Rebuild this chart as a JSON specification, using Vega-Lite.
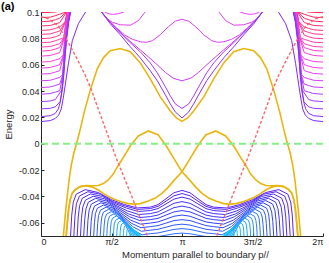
{
"$schema":"https://vega.github.io/schema/vega-lite/v6.json",
"width":282,"height":224,
"autosize":{"type":"none"},
"padding":{"left":41,"top":12,"right":6,"bottom":27},
"background":"white",
"title":{"text":"(a)","anchor":"start","frame":"group","dx":-40,"dy":6,"offset":2,"fontSize":11,"fontWeight":"bold","font":"Liberation Sans","color":"#000000"},
"config":{"view":{"stroke":null},"axis":{"grid":false,"domainColor":"#262626","tickColor":"#262626","labelColor":"#262626","titleColor":"#262626","labelFont":"Liberation Sans","titleFont":"Liberation Sans","labelFontSize":9,"titleFontSize":9.5,"titleFontWeight":"normal","tickSize":-3,"domainWidth":1}},
"datasets":{
"top":[
{"k":20,"x":0,"y":0.0995},{"k":20,"x":0.066,"y":0.0997},{"k":20,"x":0.109,"y":0.1001},{"k":20,"x":0.151,"y":0.1017},{"k":20,"x":1.849,"y":0.1017},{"k":20,"x":1.891,"y":0.1001},{"k":20,"x":1.934,"y":0.0997},{"k":20,"x":2,"y":0.0995},
{"k":19,"x":0,"y":0.0957},{"k":19,"x":0.066,"y":0.0961},{"k":19,"x":0.101,"y":0.0972},{"k":19,"x":0.133,"y":0.0983},{"k":19,"x":0.179,"y":0.1002},{"k":19,"x":0.19,"y":0.1048},{"k":19,"x":1.81,"y":0.1048},{"k":19,"x":1.821,"y":0.1002},{"k":19,"x":1.867,"y":0.0983},{"k":19,"x":1.899,"y":0.0972},{"k":19,"x":1.934,"y":0.0961},{"k":19,"x":2,"y":0.0957},
{"k":18,"x":0,"y":0.0926},{"k":18,"x":0.066,"y":0.0931},{"k":18,"x":0.101,"y":0.0941},{"k":18,"x":0.133,"y":0.0953},{"k":18,"x":0.181,"y":0.1002},{"k":18,"x":0.192,"y":0.1048},{"k":18,"x":1.808,"y":0.1048},{"k":18,"x":1.819,"y":0.1002},{"k":18,"x":1.867,"y":0.0953},{"k":18,"x":1.899,"y":0.0941},{"k":18,"x":1.934,"y":0.0931},{"k":18,"x":2,"y":0.0926},
{"k":17,"x":0,"y":0.0894},{"k":17,"x":0.066,"y":0.0898},{"k":17,"x":0.101,"y":0.0909},{"k":17,"x":0.133,"y":0.092},{"k":17,"x":0.183,"y":0.1002},{"k":17,"x":0.194,"y":0.1048},{"k":17,"x":1.806,"y":0.1048},{"k":17,"x":1.817,"y":0.1002},{"k":17,"x":1.867,"y":0.092},{"k":17,"x":1.899,"y":0.0909},{"k":17,"x":1.934,"y":0.0898},{"k":17,"x":2,"y":0.0894},
{"k":16,"x":0,"y":0.086},{"k":16,"x":0.066,"y":0.0865},{"k":16,"x":0.101,"y":0.0875},{"k":16,"x":0.133,"y":0.0887},{"k":16,"x":0.171,"y":0.0926},{"k":16,"x":0.185,"y":0.1002},{"k":16,"x":0.195,"y":0.1048},{"k":16,"x":1.805,"y":0.1048},{"k":16,"x":1.815,"y":0.1002},{"k":16,"x":1.829,"y":0.0926},{"k":16,"x":1.867,"y":0.0887},{"k":16,"x":1.899,"y":0.0875},{"k":16,"x":1.934,"y":0.0865},{"k":16,"x":2,"y":0.086},
{"k":15,"x":0,"y":0.083},{"k":15,"x":0.066,"y":0.0834},{"k":15,"x":0.101,"y":0.0845},{"k":15,"x":0.133,"y":0.0856},{"k":15,"x":0.172,"y":0.0926},{"k":15,"x":0.187,"y":0.1002},{"k":15,"x":0.197,"y":0.1048},{"k":15,"x":1.803,"y":0.1048},{"k":15,"x":1.813,"y":0.1002},{"k":15,"x":1.828,"y":0.0926},{"k":15,"x":1.867,"y":0.0856},{"k":15,"x":1.899,"y":0.0845},{"k":15,"x":1.934,"y":0.0834},{"k":15,"x":2,"y":0.083},
{"k":14,"x":0,"y":0.0797},{"k":14,"x":0.066,"y":0.0802},{"k":14,"x":0.101,"y":0.0812},{"k":14,"x":0.133,"y":0.0824},{"k":14,"x":0.174,"y":0.0926},{"k":14,"x":0.188,"y":0.1002},{"k":14,"x":0.199,"y":0.1048},{"k":14,"x":1.801,"y":0.1048},{"k":14,"x":1.812,"y":0.1002},{"k":14,"x":1.826,"y":0.0926},{"k":14,"x":1.867,"y":0.0824},{"k":14,"x":1.899,"y":0.0812},{"k":14,"x":1.934,"y":0.0802},{"k":14,"x":2,"y":0.0797},
{"k":13,"x":0,"y":0.0767},{"k":13,"x":0.066,"y":0.0771},{"k":13,"x":0.101,"y":0.0782},{"k":13,"x":0.133,"y":0.0793},{"k":13,"x":0.162,"y":0.0805},{"k":13,"x":0.176,"y":0.0926},{"k":13,"x":0.19,"y":0.1002},{"k":13,"x":0.201,"y":0.1048},{"k":13,"x":1.799,"y":0.1048},{"k":13,"x":1.81,"y":0.1002},{"k":13,"x":1.824,"y":0.0926},{"k":13,"x":1.838,"y":0.0805},{"k":13,"x":1.867,"y":0.0793},{"k":13,"x":1.899,"y":0.0782},{"k":13,"x":1.934,"y":0.0771},{"k":13,"x":2,"y":0.0767},
{"k":12,"x":0,"y":0.0734},{"k":12,"x":0.066,"y":0.0738},{"k":12,"x":0.101,"y":0.0749},{"k":12,"x":0.133,"y":0.076},{"k":12,"x":0.163,"y":0.0805},{"k":12,"x":0.178,"y":0.0926},{"k":12,"x":0.192,"y":0.1002},{"k":12,"x":0.202,"y":0.1048},{"k":12,"x":1.798,"y":0.1048},{"k":12,"x":1.808,"y":0.1002},{"k":12,"x":1.822,"y":0.0926},{"k":12,"x":1.837,"y":0.0805},{"k":12,"x":1.867,"y":0.076},{"k":12,"x":1.899,"y":0.0749},{"k":12,"x":1.934,"y":0.0738},{"k":12,"x":2,"y":0.0734},
{"k":11,"x":0,"y":0.0703},{"k":11,"x":0.066,"y":0.0708},{"k":11,"x":0.101,"y":0.0719},{"k":11,"x":0.133,"y":0.073},{"k":11,"x":0.165,"y":0.0805},{"k":11,"x":0.179,"y":0.0926},{"k":11,"x":0.194,"y":0.1002},{"k":11,"x":0.204,"y":0.1048},{"k":11,"x":1.796,"y":0.1048},{"k":11,"x":1.806,"y":0.1002},{"k":11,"x":1.821,"y":0.0926},{"k":11,"x":1.835,"y":0.0805},{"k":11,"x":1.867,"y":0.073},{"k":11,"x":1.899,"y":0.0719},{"k":11,"x":1.934,"y":0.0708},{"k":11,"x":2,"y":0.0703},
{"k":10,"x":0,"y":0.0665},{"k":10,"x":0.066,"y":0.067},{"k":10,"x":0.101,"y":0.0681},{"k":10,"x":0.133,"y":0.0692},{"k":10,"x":0.167,"y":0.0805},{"k":10,"x":0.181,"y":0.0926},{"k":10,"x":0.195,"y":0.1002},{"k":10,"x":0.206,"y":0.1048},{"k":10,"x":1.794,"y":0.1048},{"k":10,"x":1.805,"y":0.1002},{"k":10,"x":1.819,"y":0.0926},{"k":10,"x":1.833,"y":0.0805},{"k":10,"x":1.867,"y":0.0692},{"k":10,"x":1.899,"y":0.0681},{"k":10,"x":1.934,"y":0.067},{"k":10,"x":2,"y":0.0665},
{"k":9,"x":0,"y":0.062},{"k":9,"x":0.066,"y":0.0624},{"k":9,"x":0.101,"y":0.0635},{"k":9,"x":0.133,"y":0.0646},{"k":9,"x":0.158,"y":0.0675},{"k":9,"x":0.169,"y":0.0805},{"k":9,"x":0.183,"y":0.0926},{"k":9,"x":0.197,"y":0.1002},{"k":9,"x":0.208,"y":0.1048},{"k":9,"x":1.792,"y":0.1048},{"k":9,"x":1.803,"y":0.1002},{"k":9,"x":1.817,"y":0.0926},{"k":9,"x":1.831,"y":0.0805},{"k":9,"x":1.842,"y":0.0675},{"k":9,"x":1.867,"y":0.0646},{"k":9,"x":1.899,"y":0.0635},{"k":9,"x":1.934,"y":0.0624},{"k":9,"x":2,"y":0.062},
{"k":8,"x":0,"y":0.0574},{"k":8,"x":0.066,"y":0.0579},{"k":8,"x":0.101,"y":0.0589},{"k":8,"x":0.133,"y":0.0601},{"k":8,"x":0.16,"y":0.0675},{"k":8,"x":0.171,"y":0.0805},{"k":8,"x":0.185,"y":0.0926},{"k":8,"x":0.199,"y":0.1002},{"k":8,"x":0.21,"y":0.1048},{"k":8,"x":1.79,"y":0.1048},{"k":8,"x":1.801,"y":0.1002},{"k":8,"x":1.815,"y":0.0926},{"k":8,"x":1.829,"y":0.0805},{"k":8,"x":1.84,"y":0.0675},{"k":8,"x":1.867,"y":0.0601},{"k":8,"x":1.899,"y":0.0589},{"k":8,"x":1.934,"y":0.0579},{"k":8,"x":2,"y":0.0574},
{"k":7,"x":0,"y":0.0529},{"k":7,"x":0.066,"y":0.0533},{"k":7,"x":0.101,"y":0.0544},{"k":7,"x":0.133,"y":0.0555},{"k":7,"x":0.162,"y":0.0675},{"k":7,"x":0.172,"y":0.0805},{"k":7,"x":0.187,"y":0.0926},{"k":7,"x":0.201,"y":0.1002},{"k":7,"x":0.211,"y":0.1048},{"k":7,"x":1.789,"y":0.1048},{"k":7,"x":1.799,"y":0.1002},{"k":7,"x":1.813,"y":0.0926},{"k":7,"x":1.828,"y":0.0805},{"k":7,"x":1.838,"y":0.0675},{"k":7,"x":1.867,"y":0.0555},{"k":7,"x":1.899,"y":0.0544},{"k":7,"x":1.934,"y":0.0533},{"k":7,"x":2,"y":0.0529},
{"k":6,"x":0,"y":0.0478},{"k":6,"x":0.066,"y":0.0482},{"k":6,"x":0.101,"y":0.0493},{"k":6,"x":0.133,"y":0.0504},{"k":6,"x":0.153,"y":0.0523},{"k":6,"x":0.163,"y":0.0675},{"k":6,"x":0.174,"y":0.0805},{"k":6,"x":0.188,"y":0.0926},{"k":6,"x":0.202,"y":0.1002},{"k":6,"x":0.213,"y":0.1048},{"k":6,"x":1.787,"y":0.1048},{"k":6,"x":1.798,"y":0.1002},{"k":6,"x":1.812,"y":0.0926},{"k":6,"x":1.826,"y":0.0805},{"k":6,"x":1.837,"y":0.0675},{"k":6,"x":1.847,"y":0.0523},{"k":6,"x":1.867,"y":0.0504},{"k":6,"x":1.899,"y":0.0493},{"k":6,"x":1.934,"y":0.0482},{"k":6,"x":2,"y":0.0478},
{"k":5,"x":0,"y":0.0427},{"k":5,"x":0.066,"y":0.0431},{"k":5,"x":0.101,"y":0.0442},{"k":5,"x":0.133,"y":0.0453},{"k":5,"x":0.155,"y":0.0523},{"k":5,"x":0.165,"y":0.0675},{"k":5,"x":0.176,"y":0.0805},{"k":5,"x":0.19,"y":0.0926},{"k":5,"x":0.204,"y":0.1002},{"k":5,"x":0.215,"y":0.1048},{"k":5,"x":1.785,"y":0.1048},{"k":5,"x":1.796,"y":0.1002},{"k":5,"x":1.81,"y":0.0926},{"k":5,"x":1.824,"y":0.0805},{"k":5,"x":1.835,"y":0.0675},{"k":5,"x":1.845,"y":0.0523},{"k":5,"x":1.867,"y":0.0453},{"k":5,"x":1.899,"y":0.0442},{"k":5,"x":1.934,"y":0.0431},{"k":5,"x":2,"y":0.0427},
{"k":4,"x":0,"y":0.0376},{"k":4,"x":0.066,"y":0.0381},{"k":4,"x":0.101,"y":0.0392},{"k":4,"x":0.133,"y":0.0403},{"k":4,"x":0.156,"y":0.0523},{"k":4,"x":0.167,"y":0.0675},{"k":4,"x":0.178,"y":0.0805},{"k":4,"x":0.192,"y":0.0926},{"k":4,"x":0.206,"y":0.1002},{"k":4,"x":0.217,"y":0.1048},{"k":4,"x":1.783,"y":0.1048},{"k":4,"x":1.794,"y":0.1002},{"k":4,"x":1.808,"y":0.0926},{"k":4,"x":1.822,"y":0.0805},{"k":4,"x":1.833,"y":0.0675},{"k":4,"x":1.844,"y":0.0523},{"k":4,"x":1.867,"y":0.0403},{"k":4,"x":1.899,"y":0.0392},{"k":4,"x":1.934,"y":0.0381},{"k":4,"x":2,"y":0.0376},
{"k":3,"x":0,"y":0.032},{"k":3,"x":0.066,"y":0.0325},{"k":3,"x":0.101,"y":0.0335},{"k":3,"x":0.148,"y":0.0409},{"k":3,"x":0.158,"y":0.0523},{"k":3,"x":0.169,"y":0.0675},{"k":3,"x":0.179,"y":0.0805},{"k":3,"x":0.194,"y":0.0926},{"k":3,"x":0.208,"y":0.1002},{"k":3,"x":0.218,"y":0.1048},{"k":3,"x":1.782,"y":0.1048},{"k":3,"x":1.792,"y":0.1002},{"k":3,"x":1.806,"y":0.0926},{"k":3,"x":1.821,"y":0.0805},{"k":3,"x":1.831,"y":0.0675},{"k":3,"x":1.842,"y":0.0523},{"k":3,"x":1.852,"y":0.0409},{"k":3,"x":1.899,"y":0.0335},{"k":3,"x":1.934,"y":0.0325},{"k":3,"x":2,"y":0.032},
{"k":2,"x":0,"y":0.0265},{"k":2,"x":0.066,"y":0.0269},{"k":2,"x":0.101,"y":0.028},{"k":2,"x":0.135,"y":0.0318},{"k":2,"x":0.149,"y":0.0409},{"k":2,"x":0.16,"y":0.0523},{"k":2,"x":0.171,"y":0.0675},{"k":2,"x":0.181,"y":0.0805},{"k":2,"x":0.195,"y":0.0926},{"k":2,"x":0.21,"y":0.1002},{"k":2,"x":0.22,"y":0.1048},{"k":2,"x":1.78,"y":0.1048},{"k":2,"x":1.79,"y":0.1002},{"k":2,"x":1.805,"y":0.0926},{"k":2,"x":1.819,"y":0.0805},{"k":2,"x":1.829,"y":0.0675},{"k":2,"x":1.84,"y":0.0523},{"k":2,"x":1.851,"y":0.0409},{"k":2,"x":1.865,"y":0.0318},{"k":2,"x":1.899,"y":0.028},{"k":2,"x":1.934,"y":0.0269},{"k":2,"x":2,"y":0.0265},
{"k":1,"x":0,"y":0.0206},{"k":1,"x":0.066,"y":0.0213},{"k":1,"x":0.101,"y":0.023},{"k":1,"x":0.123,"y":0.0265},{"k":1,"x":0.137,"y":0.0318},{"k":1,"x":0.151,"y":0.0409},{"k":1,"x":0.162,"y":0.0523},{"k":1,"x":0.172,"y":0.0675},{"k":1,"x":0.183,"y":0.0805},{"k":1,"x":0.197,"y":0.0926},{"k":1,"x":0.211,"y":0.1002},{"k":1,"x":0.222,"y":0.1048},{"k":1,"x":1.778,"y":0.1048},{"k":1,"x":1.789,"y":0.1002},{"k":1,"x":1.803,"y":0.0926},{"k":1,"x":1.817,"y":0.0805},{"k":1,"x":1.828,"y":0.0675},{"k":1,"x":1.838,"y":0.0523},{"k":1,"x":1.849,"y":0.0409},{"k":1,"x":1.863,"y":0.0318},{"k":1,"x":1.877,"y":0.0265},{"k":1,"x":1.899,"y":0.023},{"k":1,"x":1.934,"y":0.0213},{"k":1,"x":2,"y":0.0206},
{"k":0,"x":0,"y":0.0168},{"k":0,"x":0.066,"y":0.0176},{"k":0,"x":0.101,"y":0.0192},{"k":0,"x":0.126,"y":0.0219},{"k":0,"x":0.144,"y":0.0265},{"k":0,"x":0.158,"y":0.0348},{"k":0,"x":0.172,"y":0.0447},{"k":0,"x":0.194,"y":0.0607},{"k":0,"x":0.222,"y":0.0782},{"k":0,"x":0.265,"y":0.0911},{"k":0,"x":0.317,"y":0.1002},{"k":0,"x":0.35,"y":0.1056},{"k":0,"x":1.65,"y":0.1056},{"k":0,"x":1.683,"y":0.1002},{"k":0,"x":1.735,"y":0.0911},{"k":0,"x":1.778,"y":0.0782},{"k":0,"x":1.806,"y":0.0607},{"k":0,"x":1.828,"y":0.0447},{"k":0,"x":1.842,"y":0.0348},{"k":0,"x":1.856,"y":0.0265},{"k":0,"x":1.874,"y":0.0219},{"k":0,"x":1.899,"y":0.0192},{"k":0,"x":1.934,"y":0.0176},{"k":0,"x":2,"y":0.0168},
{"k":7.5,"x":0.421,"y":0.1033},{"k":7.5,"x":0.456,"y":0.0997},{"k":7.5,"x":0.484,"y":0.0986},{"k":7.5,"x":0.513,"y":0.0982},{"k":7.5,"x":0.548,"y":0.0987},{"k":7.5,"x":0.584,"y":0.0998},{"k":7.5,"x":0.612,"y":0.1017},{"k":7.5,"x":0.704,"y":0.1094},{"k":7.5,"x":1,"y":0.1132},{"k":7.5,"x":1.296,"y":0.1094},{"k":7.5,"x":1.388,"y":0.1017},{"k":7.5,"x":1.416,"y":0.0998},{"k":7.5,"x":1.452,"y":0.0987},{"k":7.5,"x":1.487,"y":0.0982},{"k":7.5,"x":1.516,"y":0.0986},{"k":7.5,"x":1.544,"y":0.0997},{"k":7.5,"x":1.579,"y":0.1033},
{"k":7.2,"x":0.406,"y":0.1048},{"k":7.2,"x":0.428,"y":0.1002},{"k":7.2,"x":0.463,"y":0.0953},{"k":7.2,"x":0.506,"y":0.0922},{"k":7.2,"x":0.562,"y":0.0903},{"k":7.2,"x":0.633,"y":0.09},{"k":7.2,"x":0.69,"y":0.0934},{"k":7.2,"x":0.74,"y":0.1002},{"k":7.2,"x":0.775,"y":0.1063},{"k":7.2,"x":1,"y":0.1132},{"k":7.2,"x":1.225,"y":0.1063},{"k":7.2,"x":1.26,"y":0.1002},{"k":7.2,"x":1.31,"y":0.0934},{"k":7.2,"x":1.367,"y":0.09},{"k":7.2,"x":1.438,"y":0.0903},{"k":7.2,"x":1.494,"y":0.0922},{"k":7.2,"x":1.537,"y":0.0953},{"k":7.2,"x":1.572,"y":0.1002},{"k":7.2,"x":1.594,"y":0.1048},
{"k":6.8,"x":0.406,"y":0.1048},{"k":6.8,"x":0.428,"y":0.1002},{"k":6.8,"x":0.477,"y":0.0941},{"k":6.8,"x":0.534,"y":0.0881},{"k":6.8,"x":0.591,"y":0.0827},{"k":6.8,"x":0.648,"y":0.0793},{"k":6.8,"x":0.704,"y":0.0774},{"k":6.8,"x":0.747,"y":0.077},{"k":6.8,"x":0.789,"y":0.0782},{"k":6.8,"x":0.846,"y":0.0827},{"k":6.8,"x":0.903,"y":0.0888},{"k":6.8,"x":0.952,"y":0.093},{"k":6.8,"x":1,"y":0.0945},{"k":6.8,"x":1.048,"y":0.093},{"k":6.8,"x":1.097,"y":0.0888},{"k":6.8,"x":1.154,"y":0.0827},{"k":6.8,"x":1.211,"y":0.0782},{"k":6.8,"x":1.253,"y":0.077},{"k":6.8,"x":1.296,"y":0.0774},{"k":6.8,"x":1.352,"y":0.0793},{"k":6.8,"x":1.409,"y":0.0827},{"k":6.8,"x":1.466,"y":0.0881},{"k":6.8,"x":1.523,"y":0.0941},{"k":6.8,"x":1.572,"y":0.1002},{"k":6.8,"x":1.594,"y":0.1048},
{"k":5.8,"x":0.406,"y":0.104},{"k":5.8,"x":0.428,"y":0.1002},{"k":5.8,"x":0.477,"y":0.0938},{"k":5.8,"x":0.534,"y":0.0873},{"k":5.8,"x":0.591,"y":0.0816},{"k":5.8,"x":0.648,"y":0.0763},{"k":5.8,"x":0.704,"y":0.0713},{"k":5.8,"x":0.761,"y":0.066},{"k":5.8,"x":0.825,"y":0.0599},{"k":5.8,"x":0.882,"y":0.0542},{"k":5.8,"x":0.938,"y":0.0497},{"k":5.8,"x":1,"y":0.0478},{"k":5.8,"x":1.062,"y":0.0497},{"k":5.8,"x":1.118,"y":0.0542},{"k":5.8,"x":1.175,"y":0.0599},{"k":5.8,"x":1.239,"y":0.066},{"k":5.8,"x":1.296,"y":0.0713},{"k":5.8,"x":1.352,"y":0.0763},{"k":5.8,"x":1.409,"y":0.0816},{"k":5.8,"x":1.466,"y":0.0873},{"k":5.8,"x":1.523,"y":0.0938},{"k":5.8,"x":1.572,"y":0.1002},{"k":5.8,"x":1.594,"y":0.104},
{"k":3.3,"x":0.406,"y":0.104},{"k":3.3,"x":0.428,"y":0.1002},{"k":3.3,"x":0.491,"y":0.0919},{"k":3.3,"x":0.562,"y":0.0843},{"k":3.3,"x":0.633,"y":0.0767},{"k":3.3,"x":0.704,"y":0.0698},{"k":3.3,"x":0.775,"y":0.0614},{"k":3.3,"x":0.825,"y":0.0538},{"k":3.3,"x":0.882,"y":0.0432},{"k":3.3,"x":0.917,"y":0.0363},{"k":3.3,"x":0.952,"y":0.0303},{"k":3.3,"x":1,"y":0.0268},{"k":3.3,"x":1.048,"y":0.0303},{"k":3.3,"x":1.083,"y":0.0363},{"k":3.3,"x":1.118,"y":0.0432},{"k":3.3,"x":1.175,"y":0.0538},{"k":3.3,"x":1.225,"y":0.0614},{"k":3.3,"x":1.296,"y":0.0698},{"k":3.3,"x":1.367,"y":0.0767},{"k":3.3,"x":1.438,"y":0.0843},{"k":3.3,"x":1.509,"y":0.0919},{"k":3.3,"x":1.572,"y":0.1002},{"k":3.3,"x":1.594,"y":0.104},
{"k":1.3,"x":0.406,"y":0.104},{"k":1.3,"x":0.428,"y":0.1002},{"k":1.3,"x":0.491,"y":0.0911},{"k":1.3,"x":0.562,"y":0.0827},{"k":1.3,"x":0.633,"y":0.0736},{"k":1.3,"x":0.669,"y":0.0694},{"k":1.3,"x":0.704,"y":0.0652},{"k":1.3,"x":0.775,"y":0.0554},{"k":1.3,"x":0.825,"y":0.0478},{"k":1.3,"x":0.882,"y":0.0371},{"k":1.3,"x":0.917,"y":0.0303},{"k":1.3,"x":0.952,"y":0.0242},{"k":1.3,"x":1,"y":0.0196},{"k":1.3,"x":1.048,"y":0.0242},{"k":1.3,"x":1.083,"y":0.0303},{"k":1.3,"x":1.118,"y":0.0371},{"k":1.3,"x":1.175,"y":0.0478},{"k":1.3,"x":1.225,"y":0.0554},{"k":1.3,"x":1.296,"y":0.0652},{"k":1.3,"x":1.331,"y":0.0694},{"k":1.3,"x":1.367,"y":0.0736},{"k":1.3,"x":1.438,"y":0.0827},{"k":1.3,"x":1.509,"y":0.0911},{"k":1.3,"x":1.572,"y":0.1002},{"k":1.3,"x":1.594,"y":0.104}
],
"bot":[
{"k":0,"x":0.208,"y":-0.0732},{"k":0,"x":0.218,"y":-0.054},{"k":0,"x":0.229,"y":-0.0443},{"k":0,"x":0.25,"y":-0.0382},{"k":0,"x":0.314,"y":-0.0348},{"k":0,"x":0.406,"y":-0.037},{"k":0,"x":0.499,"y":-0.0424},{"k":0,"x":0.591,"y":-0.0461},{"k":0,"x":0.683,"y":-0.0487},{"k":0,"x":0.775,"y":-0.0481},{"k":0,"x":0.83,"y":-0.0462},{"k":0,"x":0.887,"y":-0.0417},{"k":0,"x":0.943,"y":-0.0372},{"k":0,"x":1,"y":-0.0354},{"k":0,"x":1.057,"y":-0.0372},{"k":0,"x":1.113,"y":-0.0417},{"k":0,"x":1.17,"y":-0.0462},{"k":0,"x":1.225,"y":-0.0481},{"k":0,"x":1.317,"y":-0.0487},{"k":0,"x":1.409,"y":-0.0461},{"k":0,"x":1.501,"y":-0.0424},{"k":0,"x":1.594,"y":-0.037},{"k":0,"x":1.686,"y":-0.0348},{"k":0,"x":1.75,"y":-0.0382},{"k":0,"x":1.771,"y":-0.0443},{"k":0,"x":1.782,"y":-0.054},{"k":0,"x":1.792,"y":-0.0732},
{"k":1,"x":0.231,"y":-0.0732},{"k":1,"x":0.241,"y":-0.0548},{"k":1,"x":0.251,"y":-0.0456},{"k":1,"x":0.272,"y":-0.0397},{"k":1,"x":0.333,"y":-0.0364},{"k":1,"x":0.421,"y":-0.0383},{"k":1,"x":0.51,"y":-0.0439},{"k":1,"x":0.598,"y":-0.0473},{"k":1,"x":0.687,"y":-0.0498},{"k":1,"x":0.775,"y":-0.0492},{"k":1,"x":0.83,"y":-0.0475},{"k":1,"x":0.887,"y":-0.0435},{"k":1,"x":0.943,"y":-0.0395},{"k":1,"x":1,"y":-0.0378},{"k":1,"x":1.057,"y":-0.0395},{"k":1,"x":1.113,"y":-0.0435},{"k":1,"x":1.17,"y":-0.0475},{"k":1,"x":1.225,"y":-0.0492},{"k":1,"x":1.313,"y":-0.0498},{"k":1,"x":1.402,"y":-0.0473},{"k":1,"x":1.49,"y":-0.0439},{"k":1,"x":1.579,"y":-0.0383},{"k":1,"x":1.667,"y":-0.0364},{"k":1,"x":1.728,"y":-0.0397},{"k":1,"x":1.749,"y":-0.0456},{"k":1,"x":1.759,"y":-0.0548},{"k":1,"x":1.769,"y":-0.0732},
{"k":2,"x":0.255,"y":-0.0732},{"k":2,"x":0.264,"y":-0.0556},{"k":2,"x":0.274,"y":-0.0469},{"k":2,"x":0.293,"y":-0.0413},{"k":2,"x":0.351,"y":-0.0381},{"k":2,"x":0.436,"y":-0.04},{"k":2,"x":0.521,"y":-0.0452},{"k":2,"x":0.606,"y":-0.0488},{"k":2,"x":0.69,"y":-0.0514},{"k":2,"x":0.775,"y":-0.0507},{"k":2,"x":0.83,"y":-0.0492},{"k":2,"x":0.887,"y":-0.0456},{"k":2,"x":0.943,"y":-0.042},{"k":2,"x":1,"y":-0.0405},{"k":2,"x":1.057,"y":-0.042},{"k":2,"x":1.113,"y":-0.0456},{"k":2,"x":1.17,"y":-0.0492},{"k":2,"x":1.225,"y":-0.0507},{"k":2,"x":1.31,"y":-0.0514},{"k":2,"x":1.394,"y":-0.0488},{"k":2,"x":1.479,"y":-0.0452},{"k":2,"x":1.564,"y":-0.04},{"k":2,"x":1.649,"y":-0.0381},{"k":2,"x":1.707,"y":-0.0413},{"k":2,"x":1.726,"y":-0.0469},{"k":2,"x":1.736,"y":-0.0556},{"k":2,"x":1.745,"y":-0.0732},
{"k":3,"x":0.278,"y":-0.0732},{"k":3,"x":0.287,"y":-0.0565},{"k":3,"x":0.296,"y":-0.0481},{"k":3,"x":0.315,"y":-0.0428},{"k":3,"x":0.37,"y":-0.0398},{"k":3,"x":0.451,"y":-0.0418},{"k":3,"x":0.532,"y":-0.0468},{"k":3,"x":0.613,"y":-0.051},{"k":3,"x":0.694,"y":-0.0537},{"k":3,"x":0.775,"y":-0.053},{"k":3,"x":0.83,"y":-0.0517},{"k":3,"x":0.887,"y":-0.0484},{"k":3,"x":0.943,"y":-0.0452},{"k":3,"x":1,"y":-0.0439},{"k":3,"x":1.057,"y":-0.0452},{"k":3,"x":1.113,"y":-0.0484},{"k":3,"x":1.17,"y":-0.0517},{"k":3,"x":1.225,"y":-0.053},{"k":3,"x":1.306,"y":-0.0537},{"k":3,"x":1.387,"y":-0.051},{"k":3,"x":1.468,"y":-0.0468},{"k":3,"x":1.549,"y":-0.0418},{"k":3,"x":1.63,"y":-0.0398},{"k":3,"x":1.685,"y":-0.0428},{"k":3,"x":1.704,"y":-0.0481},{"k":3,"x":1.713,"y":-0.0565},{"k":3,"x":1.722,"y":-0.0732},
{"k":4,"x":0.301,"y":-0.0732},{"k":4,"x":0.31,"y":-0.0573},{"k":4,"x":0.319,"y":-0.0494},{"k":4,"x":0.336,"y":-0.0443},{"k":4,"x":0.388,"y":-0.0414},{"k":4,"x":0.465,"y":-0.0435},{"k":4,"x":0.543,"y":-0.0484},{"k":4,"x":0.62,"y":-0.0532},{"k":4,"x":0.698,"y":-0.056},{"k":4,"x":0.775,"y":-0.0553},{"k":4,"x":0.83,"y":-0.0541},{"k":4,"x":0.887,"y":-0.0513},{"k":4,"x":0.943,"y":-0.0485},{"k":4,"x":1,"y":-0.0473},{"k":4,"x":1.057,"y":-0.0485},{"k":4,"x":1.113,"y":-0.0513},{"k":4,"x":1.17,"y":-0.0541},{"k":4,"x":1.225,"y":-0.0553},{"k":4,"x":1.302,"y":-0.056},{"k":4,"x":1.38,"y":-0.0532},{"k":4,"x":1.457,"y":-0.0484},{"k":4,"x":1.535,"y":-0.0435},{"k":4,"x":1.612,"y":-0.0414},{"k":4,"x":1.664,"y":-0.0443},{"k":4,"x":1.681,"y":-0.0494},{"k":4,"x":1.69,"y":-0.0573},{"k":4,"x":1.699,"y":-0.0732},
{"k":5,"x":0.325,"y":-0.0732},{"k":5,"x":0.333,"y":-0.0581},{"k":5,"x":0.341,"y":-0.0506},{"k":5,"x":0.357,"y":-0.0458},{"k":5,"x":0.406,"y":-0.0431},{"k":5,"x":0.48,"y":-0.0453},{"k":5,"x":0.554,"y":-0.0503},{"k":5,"x":0.628,"y":-0.0554},{"k":5,"x":0.701,"y":-0.0583},{"k":5,"x":0.775,"y":-0.0576},{"k":5,"x":0.83,"y":-0.0566},{"k":5,"x":0.887,"y":-0.0541},{"k":5,"x":0.943,"y":-0.0517},{"k":5,"x":1,"y":-0.0507},{"k":5,"x":1.057,"y":-0.0517},{"k":5,"x":1.113,"y":-0.0541},{"k":5,"x":1.17,"y":-0.0566},{"k":5,"x":1.225,"y":-0.0576},{"k":5,"x":1.299,"y":-0.0583},{"k":5,"x":1.372,"y":-0.0554},{"k":5,"x":1.446,"y":-0.0503},{"k":5,"x":1.52,"y":-0.0453},{"k":5,"x":1.594,"y":-0.0431},{"k":5,"x":1.643,"y":-0.0458},{"k":5,"x":1.659,"y":-0.0506},{"k":5,"x":1.667,"y":-0.0581},{"k":5,"x":1.675,"y":-0.0732},
{"k":6,"x":0.348,"y":-0.0732},{"k":6,"x":0.356,"y":-0.059},{"k":6,"x":0.364,"y":-0.0519},{"k":6,"x":0.379,"y":-0.0473},{"k":6,"x":0.425,"y":-0.0448},{"k":6,"x":0.495,"y":-0.0471},{"k":6,"x":0.565,"y":-0.0525},{"k":6,"x":0.635,"y":-0.0579},{"k":6,"x":0.705,"y":-0.061},{"k":6,"x":0.775,"y":-0.0602},{"k":6,"x":0.83,"y":-0.0593},{"k":6,"x":0.887,"y":-0.0572},{"k":6,"x":0.943,"y":-0.055},{"k":6,"x":1,"y":-0.0541},{"k":6,"x":1.057,"y":-0.055},{"k":6,"x":1.113,"y":-0.0572},{"k":6,"x":1.17,"y":-0.0593},{"k":6,"x":1.225,"y":-0.0602},{"k":6,"x":1.295,"y":-0.061},{"k":6,"x":1.365,"y":-0.0579},{"k":6,"x":1.435,"y":-0.0525},{"k":6,"x":1.505,"y":-0.0471},{"k":6,"x":1.575,"y":-0.0448},{"k":6,"x":1.621,"y":-0.0473},{"k":6,"x":1.636,"y":-0.0519},{"k":6,"x":1.644,"y":-0.059},{"k":6,"x":1.652,"y":-0.0732},
{"k":7,"x":0.372,"y":-0.0732},{"k":7,"x":0.379,"y":-0.0598},{"k":7,"x":0.386,"y":-0.0531},{"k":7,"x":0.4,"y":-0.0489},{"k":7,"x":0.443,"y":-0.0465},{"k":7,"x":0.51,"y":-0.0489},{"k":7,"x":0.576,"y":-0.0547},{"k":7,"x":0.642,"y":-0.0604},{"k":7,"x":0.709,"y":-0.0637},{"k":7,"x":0.775,"y":-0.0629},{"k":7,"x":0.83,"y":-0.0621},{"k":7,"x":0.887,"y":-0.0602},{"k":7,"x":0.943,"y":-0.0583},{"k":7,"x":1,"y":-0.0576},{"k":7,"x":1.057,"y":-0.0583},{"k":7,"x":1.113,"y":-0.0602},{"k":7,"x":1.17,"y":-0.0621},{"k":7,"x":1.225,"y":-0.0629},{"k":7,"x":1.291,"y":-0.0637},{"k":7,"x":1.358,"y":-0.0604},{"k":7,"x":1.424,"y":-0.0547},{"k":7,"x":1.49,"y":-0.0489},{"k":7,"x":1.557,"y":-0.0465},{"k":7,"x":1.6,"y":-0.0489},{"k":7,"x":1.614,"y":-0.0531},{"k":7,"x":1.621,"y":-0.0598},{"k":7,"x":1.628,"y":-0.0732},
{"k":8,"x":0.395,"y":-0.0732},{"k":8,"x":0.402,"y":-0.0606},{"k":8,"x":0.408,"y":-0.0544},{"k":8,"x":0.422,"y":-0.0504},{"k":8,"x":0.462,"y":-0.0481},{"k":8,"x":0.524,"y":-0.0508},{"k":8,"x":0.587,"y":-0.0568},{"k":8,"x":0.65,"y":-0.0629},{"k":8,"x":0.712,"y":-0.0664},{"k":8,"x":0.775,"y":-0.0656},{"k":8,"x":0.83,"y":-0.0649},{"k":8,"x":0.887,"y":-0.0633},{"k":8,"x":0.943,"y":-0.0617},{"k":8,"x":1,"y":-0.061},{"k":8,"x":1.057,"y":-0.0617},{"k":8,"x":1.113,"y":-0.0633},{"k":8,"x":1.17,"y":-0.0649},{"k":8,"x":1.225,"y":-0.0656},{"k":8,"x":1.288,"y":-0.0664},{"k":8,"x":1.35,"y":-0.0629},{"k":8,"x":1.413,"y":-0.0568},{"k":8,"x":1.476,"y":-0.0508},{"k":8,"x":1.538,"y":-0.0481},{"k":8,"x":1.578,"y":-0.0504},{"k":8,"x":1.592,"y":-0.0544},{"k":8,"x":1.598,"y":-0.0606},{"k":8,"x":1.605,"y":-0.0732},
{"k":9,"x":0.418,"y":-0.0732},{"k":9,"x":0.425,"y":-0.0615},{"k":9,"x":0.431,"y":-0.0556},{"k":9,"x":0.443,"y":-0.0519},{"k":9,"x":0.48,"y":-0.0498},{"k":9,"x":0.539,"y":-0.0526},{"k":9,"x":0.598,"y":-0.059},{"k":9,"x":0.657,"y":-0.0655},{"k":9,"x":0.716,"y":-0.0691},{"k":9,"x":0.775,"y":-0.0682},{"k":9,"x":0.83,"y":-0.0677},{"k":9,"x":0.887,"y":-0.0663},{"k":9,"x":0.943,"y":-0.065},{"k":9,"x":1,"y":-0.0644},{"k":9,"x":1.057,"y":-0.065},{"k":9,"x":1.113,"y":-0.0663},{"k":9,"x":1.17,"y":-0.0677},{"k":9,"x":1.225,"y":-0.0682},{"k":9,"x":1.284,"y":-0.0691},{"k":9,"x":1.343,"y":-0.0655},{"k":9,"x":1.402,"y":-0.059},{"k":9,"x":1.461,"y":-0.0526},{"k":9,"x":1.52,"y":-0.0498},{"k":9,"x":1.557,"y":-0.0519},{"k":9,"x":1.569,"y":-0.0556},{"k":9,"x":1.575,"y":-0.0615},{"k":9,"x":1.582,"y":-0.0732},
{"k":10,"x":0.442,"y":-0.0732},{"k":10,"x":0.448,"y":-0.0623},{"k":10,"x":0.453,"y":-0.0569},{"k":10,"x":0.465,"y":-0.0534},{"k":10,"x":0.499,"y":-0.0515},{"k":10,"x":0.554,"y":-0.0544},{"k":10,"x":0.609,"y":-0.0612},{"k":10,"x":0.665,"y":-0.068},{"k":10,"x":0.72,"y":-0.0718},{"k":10,"x":0.775,"y":-0.0709},{"k":10,"x":0.83,"y":-0.0704},{"k":10,"x":0.887,"y":-0.0694},{"k":10,"x":0.943,"y":-0.0683},{"k":10,"x":1,"y":-0.0678},{"k":10,"x":1.057,"y":-0.0683},{"k":10,"x":1.113,"y":-0.0694},{"k":10,"x":1.17,"y":-0.0704},{"k":10,"x":1.225,"y":-0.0709},{"k":10,"x":1.28,"y":-0.0718},{"k":10,"x":1.335,"y":-0.068},{"k":10,"x":1.391,"y":-0.0612},{"k":10,"x":1.446,"y":-0.0544},{"k":10,"x":1.501,"y":-0.0515},{"k":10,"x":1.535,"y":-0.0534},{"k":10,"x":1.547,"y":-0.0569},{"k":10,"x":1.552,"y":-0.0623},{"k":10,"x":1.558,"y":-0.0732},
{"k":11,"x":0.465,"y":-0.0732},{"k":11,"x":0.47,"y":-0.0632},{"k":11,"x":0.476,"y":-0.0582},{"k":11,"x":0.486,"y":-0.055},{"k":11,"x":0.517,"y":-0.0532},{"k":11,"x":0.56,"y":-0.0562},{"k":11,"x":0.602,"y":-0.0623},{"k":11,"x":0.645,"y":-0.0714},{"k":11,"x":1.355,"y":-0.0714},{"k":11,"x":1.398,"y":-0.0623},{"k":11,"x":1.44,"y":-0.0562},{"k":11,"x":1.483,"y":-0.0532},{"k":11,"x":1.514,"y":-0.055},{"k":11,"x":1.524,"y":-0.0582},{"k":11,"x":1.53,"y":-0.0632},{"k":11,"x":1.535,"y":-0.0732},
{"k":12,"x":0.489,"y":-0.0732},{"k":12,"x":0.493,"y":-0.064},{"k":12,"x":0.498,"y":-0.0594},{"k":12,"x":0.507,"y":-0.0565},{"k":12,"x":0.535,"y":-0.0548},{"k":12,"x":0.578,"y":-0.0579},{"k":12,"x":0.621,"y":-0.064},{"k":12,"x":0.663,"y":-0.0731},{"k":12,"x":1.337,"y":-0.0731},{"k":12,"x":1.379,"y":-0.064},{"k":12,"x":1.422,"y":-0.0579},{"k":12,"x":1.465,"y":-0.0548},{"k":12,"x":1.493,"y":-0.0565},{"k":12,"x":1.502,"y":-0.0594},{"k":12,"x":1.507,"y":-0.064},{"k":12,"x":1.511,"y":-0.0732},
{"k":13,"x":0.512,"y":-0.0732},{"k":13,"x":0.516,"y":-0.0648},{"k":13,"x":0.52,"y":-0.0607},{"k":13,"x":0.529,"y":-0.058},{"k":13,"x":0.554,"y":-0.0565},{"k":13,"x":0.596,"y":-0.0595},{"k":13,"x":0.639,"y":-0.0656},{"k":13,"x":0.682,"y":-0.0748},{"k":13,"x":1.318,"y":-0.0748},{"k":13,"x":1.361,"y":-0.0656},{"k":13,"x":1.404,"y":-0.0595},{"k":13,"x":1.446,"y":-0.0565},{"k":13,"x":1.471,"y":-0.058},{"k":13,"x":1.48,"y":-0.0607},{"k":13,"x":1.484,"y":-0.0648},{"k":13,"x":1.488,"y":-0.0732},
{"k":14,"x":0.535,"y":-0.0732},{"k":14,"x":0.539,"y":-0.0657},{"k":14,"x":0.543,"y":-0.0619},{"k":14,"x":0.55,"y":-0.0595},{"k":14,"x":0.572,"y":-0.0582},{"k":14,"x":0.615,"y":-0.0612},{"k":14,"x":0.657,"y":-0.0673},{"k":14,"x":0.7,"y":-0.0764},{"k":14,"x":1.3,"y":-0.0764},{"k":14,"x":1.343,"y":-0.0673},{"k":14,"x":1.385,"y":-0.0612},{"k":14,"x":1.428,"y":-0.0582},{"k":14,"x":1.45,"y":-0.0595},{"k":14,"x":1.457,"y":-0.0619},{"k":14,"x":1.461,"y":-0.0657},{"k":14,"x":1.465,"y":-0.0732},
{"k":15,"x":0.559,"y":-0.0732},{"k":15,"x":0.562,"y":-0.0665},{"k":15,"x":0.565,"y":-0.0632},{"k":15,"x":0.572,"y":-0.061},{"k":15,"x":0.591,"y":-0.0598},{"k":15,"x":0.633,"y":-0.0629},{"k":15,"x":0.676,"y":-0.069},{"k":15,"x":0.718,"y":-0.0781},{"k":15,"x":1.282,"y":-0.0781},{"k":15,"x":1.324,"y":-0.069},{"k":15,"x":1.367,"y":-0.0629},{"k":15,"x":1.409,"y":-0.0598},{"k":15,"x":1.428,"y":-0.061},{"k":15,"x":1.435,"y":-0.0632},{"k":15,"x":1.438,"y":-0.0665},{"k":15,"x":1.441,"y":-0.0732},
{"k":16,"x":0.582,"y":-0.0732},{"k":16,"x":0.585,"y":-0.0673},{"k":16,"x":0.588,"y":-0.0644},{"k":16,"x":0.593,"y":-0.0626},{"k":16,"x":0.609,"y":-0.0615},{"k":16,"x":0.652,"y":-0.0646},{"k":16,"x":0.694,"y":-0.0706},{"k":16,"x":0.737,"y":-0.0798},{"k":16,"x":1.263,"y":-0.0798},{"k":16,"x":1.306,"y":-0.0706},{"k":16,"x":1.348,"y":-0.0646},{"k":16,"x":1.391,"y":-0.0615},{"k":16,"x":1.407,"y":-0.0626},{"k":16,"x":1.412,"y":-0.0644},{"k":16,"x":1.415,"y":-0.0673},{"k":16,"x":1.418,"y":-0.0732},
{"k":17,"x":0.606,"y":-0.0732},{"k":17,"x":0.608,"y":-0.0682},{"k":17,"x":0.61,"y":-0.0657},{"k":17,"x":0.614,"y":-0.0641},{"k":17,"x":0.628,"y":-0.0632},{"k":17,"x":0.67,"y":-0.0662},{"k":17,"x":0.713,"y":-0.0723},{"k":17,"x":0.755,"y":-0.0814},{"k":17,"x":1.245,"y":-0.0814},{"k":17,"x":1.287,"y":-0.0723},{"k":17,"x":1.33,"y":-0.0662},{"k":17,"x":1.372,"y":-0.0632},{"k":17,"x":1.386,"y":-0.0641},{"k":17,"x":1.39,"y":-0.0657},{"k":17,"x":1.392,"y":-0.0682},{"k":17,"x":1.394,"y":-0.0732},
{"k":18,"x":0.629,"y":-0.0732},{"k":18,"x":0.631,"y":-0.069},{"k":18,"x":0.632,"y":-0.0669},{"k":18,"x":0.636,"y":-0.0656},{"k":18,"x":0.646,"y":-0.0649},{"k":18,"x":0.689,"y":-0.0679},{"k":18,"x":0.731,"y":-0.074},{"k":18,"x":1.269,"y":-0.074},{"k":18,"x":1.311,"y":-0.0679},{"k":18,"x":1.354,"y":-0.0649},{"k":18,"x":1.364,"y":-0.0656},{"k":18,"x":1.368,"y":-0.0669},{"k":18,"x":1.369,"y":-0.069},{"k":18,"x":1.371,"y":-0.0732},
{"k":19,"x":0.652,"y":-0.0732},{"k":19,"x":0.655,"y":-0.0682},{"k":19,"x":0.657,"y":-0.0671},{"k":19,"x":0.665,"y":-0.0665},{"k":19,"x":0.707,"y":-0.0696},{"k":19,"x":0.75,"y":-0.0757},{"k":19,"x":1.25,"y":-0.0757},{"k":19,"x":1.293,"y":-0.0696},{"k":19,"x":1.335,"y":-0.0665},{"k":19,"x":1.343,"y":-0.0671},{"k":19,"x":1.345,"y":-0.0682},{"k":19,"x":1.348,"y":-0.0732}
],
"gold":[
{"g":"A","x":0.156,"y":-0.074},{"g":"A","x":0.158,"y":-0.0709},{"g":"A","x":0.172,"y":-0.0541},{"g":"A","x":0.187,"y":-0.0389},{"g":"A","x":0.201,"y":-0.026},{"g":"A","x":0.215,"y":-0.0161},{"g":"A","x":0.233,"y":-0.007},{"g":"A","x":0.257,"y":0.0021},{"g":"A","x":0.279,"y":0.0113},{"g":"A","x":0.307,"y":0.0242},{"g":"A","x":0.35,"y":0.0409},{"g":"A","x":0.399,"y":0.0569},{"g":"A","x":0.442,"y":0.0652},{"g":"A","x":0.491,"y":0.0706},{"g":"A","x":0.562,"y":0.0723},{"g":"A","x":0.633,"y":0.0698},{"g":"A","x":0.704,"y":0.0614},{"g":"A","x":0.775,"y":0.0493},{"g":"A","x":0.846,"y":0.0356},{"g":"A","x":0.917,"y":0.0249},{"g":"A","x":0.96,"y":0.0196},{"g":"A","x":1,"y":0.017},{"g":"A","x":1.04,"y":0.0196},{"g":"A","x":1.083,"y":0.0249},{"g":"A","x":1.154,"y":0.0356},{"g":"A","x":1.225,"y":0.0493},{"g":"A","x":1.296,"y":0.0614},{"g":"A","x":1.367,"y":0.0698},{"g":"A","x":1.438,"y":0.0723},{"g":"A","x":1.509,"y":0.0706},{"g":"A","x":1.558,"y":0.0652},{"g":"A","x":1.601,"y":0.0569},{"g":"A","x":1.65,"y":0.0409},{"g":"A","x":1.693,"y":0.0242},{"g":"A","x":1.721,"y":0.0113},{"g":"A","x":1.743,"y":0.0021},{"g":"A","x":1.767,"y":-0.007},{"g":"A","x":1.785,"y":-0.0161},{"g":"A","x":1.799,"y":-0.026},{"g":"A","x":1.813,"y":-0.0389},{"g":"A","x":1.828,"y":-0.0541},{"g":"A","x":1.842,"y":-0.0709},{"g":"A","x":1.844,"y":-0.074},
{"g":"B","x":0.176,"y":-0.0732},{"g":"B","x":0.187,"y":-0.0595},{"g":"B","x":0.197,"y":-0.0488},{"g":"B","x":0.208,"y":-0.042},{"g":"B","x":0.222,"y":-0.0374},{"g":"B","x":0.243,"y":-0.0348},{"g":"B","x":0.279,"y":-0.0325},{"g":"B","x":0.321,"y":-0.0317},{"g":"B","x":0.364,"y":-0.0319},{"g":"B","x":0.406,"y":-0.0317},{"g":"B","x":0.442,"y":-0.0302},{"g":"B","x":0.477,"y":-0.0275},{"g":"B","x":0.513,"y":-0.023},{"g":"B","x":0.541,"y":-0.0176},{"g":"B","x":0.577,"y":-0.0116},{"g":"B","x":0.633,"y":-0.0017},{"g":"B","x":0.69,"y":0.0059},{"g":"B","x":0.761,"y":0.0097},{"g":"B","x":0.832,"y":0.0067},{"g":"B","x":0.889,"y":-0.0017},{"g":"B","x":0.945,"y":-0.0116},{"g":"B","x":1,"y":-0.0212},{"g":"B","x":1.055,"y":-0.0276},{"g":"B","x":1.097,"y":-0.0329},{"g":"B","x":1.14,"y":-0.0374},{"g":"B","x":1.189,"y":-0.0412},{"g":"B","x":1.239,"y":-0.0435},{"g":"B","x":1.296,"y":-0.0454},{"g":"B","x":1.338,"y":-0.0458},{"g":"B","x":1.381,"y":-0.0454},{"g":"B","x":1.423,"y":-0.0443},{"g":"B","x":1.466,"y":-0.0427},{"g":"B","x":1.509,"y":-0.0408},{"g":"B","x":1.551,"y":-0.0382},{"g":"B","x":1.594,"y":-0.0351},{"g":"B","x":1.636,"y":-0.0329},{"g":"B","x":1.679,"y":-0.0319},{"g":"B","x":1.721,"y":-0.0325},{"g":"B","x":1.757,"y":-0.0348},{"g":"B","x":1.778,"y":-0.0374},{"g":"B","x":1.792,"y":-0.042},{"g":"B","x":1.803,"y":-0.0488},{"g":"B","x":1.813,"y":-0.0595},{"g":"B","x":1.824,"y":-0.0732},
{"g":"C","x":0.176,"y":-0.0732},{"g":"C","x":0.187,"y":-0.0595},{"g":"C","x":0.197,"y":-0.0488},{"g":"C","x":0.208,"y":-0.042},{"g":"C","x":0.222,"y":-0.0374},{"g":"C","x":0.243,"y":-0.0348},{"g":"C","x":0.279,"y":-0.0325},{"g":"C","x":0.321,"y":-0.0319},{"g":"C","x":0.364,"y":-0.0329},{"g":"C","x":0.406,"y":-0.0351},{"g":"C","x":0.449,"y":-0.0382},{"g":"C","x":0.491,"y":-0.0408},{"g":"C","x":0.534,"y":-0.0427},{"g":"C","x":0.577,"y":-0.0443},{"g":"C","x":0.619,"y":-0.0454},{"g":"C","x":0.662,"y":-0.0458},{"g":"C","x":0.704,"y":-0.0454},{"g":"C","x":0.761,"y":-0.0435},{"g":"C","x":0.811,"y":-0.0412},{"g":"C","x":0.86,"y":-0.0374},{"g":"C","x":0.903,"y":-0.0329},{"g":"C","x":0.945,"y":-0.0276},{"g":"C","x":1,"y":-0.0212},{"g":"C","x":1.055,"y":-0.0116},{"g":"C","x":1.111,"y":-0.0017},{"g":"C","x":1.168,"y":0.0067},{"g":"C","x":1.239,"y":0.0097},{"g":"C","x":1.31,"y":0.0059},{"g":"C","x":1.367,"y":-0.0017},{"g":"C","x":1.423,"y":-0.0116},{"g":"C","x":1.459,"y":-0.0176},{"g":"C","x":1.487,"y":-0.023},{"g":"C","x":1.523,"y":-0.0275},{"g":"C","x":1.558,"y":-0.0302},{"g":"C","x":1.594,"y":-0.0317},{"g":"C","x":1.636,"y":-0.0319},{"g":"C","x":1.679,"y":-0.0317},{"g":"C","x":1.721,"y":-0.0325},{"g":"C","x":1.757,"y":-0.0348},{"g":"C","x":1.778,"y":-0.0374},{"g":"C","x":1.792,"y":-0.042},{"g":"C","x":1.803,"y":-0.0488},{"g":"C","x":1.813,"y":-0.0595},{"g":"C","x":1.824,"y":-0.0732}
],
"red":[
{"x":0,"y":0.0965},{"x":0.05,"y":0.095},{"x":0.123,"y":0.0894},{"x":0.182,"y":0.0792},{"x":0.252,"y":0.0652},{"x":0.312,"y":0.0525},{"x":0.359,"y":0.0405},{"x":0.394,"y":0.03},{"x":0.468,"y":0.0082},{"x":0.539,"y":-0.0123},{"x":0.64,"y":-0.0389},{"x":0.752,"y":-0.0694},{"x":0.761,"y":-0.0732},
{"x":1.239,"y":-0.0732},{"x":1.248,"y":-0.0694},{"x":1.36,"y":-0.0389},{"x":1.461,"y":-0.0123},{"x":1.532,"y":0.0082},{"x":1.606,"y":0.03},{"x":1.641,"y":0.0405},{"x":1.688,"y":0.0525},{"x":1.748,"y":0.0652},{"x":1.818,"y":0.0792},{"x":1.877,"y":0.0894},{"x":1.95,"y":0.095},{"x":2,"y":0.0965}
],
"zero":[{"x":0,"y":0},{"x":2,"y":0}]
},
"encoding":{
"x":{"field":"x","type":"quantitative","scale":{"domain":[0,2],"nice":false,"zero":false},"axis":{"values":[0,0.5,1,1.5,2],"labelExpr":"datum.value == 0 ? '0' : datum.value == 0.5 ? 'π/2' : datum.value == 1 ? 'π' : datum.value == 1.5 ? '3π/2' : '2π'","labelPadding":4,"titlePadding":3,"titleX":154,"titleAlign":"center"},"title":"Momentum parallel to boundary p//"},
"y":{"field":"y","type":"quantitative","scale":{"domain":[-0.07,0.1],"nice":false,"zero":false},"axis":{"values":[-0.06,-0.04,-0.02,0,0.02,0.04,0.06,0.08,0.1],"labelExpr":"replace(format(datum.value, '~g'), '−', '-')","labelPadding":5,"titlePadding":5},"title":"Energy"}
},
"layer":[
{"data":{"name":"top"},"mark":{"type":"line","clip":true,"strokeWidth":1},"encoding":{"color":{"field":"k","type":"quantitative","scale":{"domain":[0,4,8,12,16,20],"range":["#7a2aff","#b43cff","#f040f0","#ff40b8","#ff3484","#ff2050"],"interpolate":"rgb"},"legend":null},"detail":{"field":"k","type":"quantitative"}}},
{"data":{"name":"bot"},"mark":{"type":"line","clip":true,"strokeWidth":1},"encoding":{"color":{"field":"k","type":"quantitative","scale":{"domain":[0,6,12,19],"range":["#5a22ff","#3040ff","#2a8cff","#00d8ff"],"interpolate":"rgb"},"legend":null},"detail":{"field":"k","type":"quantitative"}}},
{"data":{"name":"gold"},"mark":{"type":"line","clip":true,"strokeWidth":1.6,"color":"#E9B50F"},"encoding":{"detail":{"field":"g","type":"nominal"}}},
{"data":{"name":"red"},"mark":{"type":"line","clip":true,"strokeWidth":1.4,"color":"#FF6666","strokeDash":[3,2]},"encoding":{}},
{"data":{"name":"zero"},"mark":{"type":"line","clip":true,"strokeWidth":1.8,"color":"#88EE88","strokeDash":[7,4]},"encoding":{}}
],
"resolve":{"scale":{"color":"independent"}}
}
